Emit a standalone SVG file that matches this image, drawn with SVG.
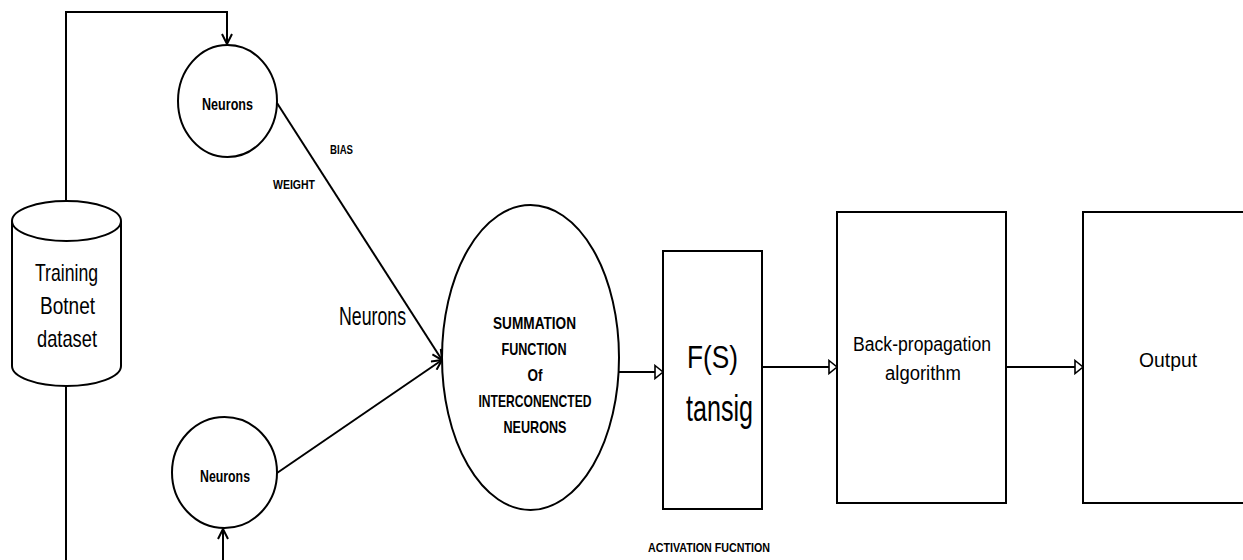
<svg xmlns="http://www.w3.org/2000/svg" width="1243" height="560" viewBox="0 0 1243 560">
<style>
.s{fill:none;stroke:#000;stroke-width:2}
.n{fill:#fff;stroke:#000;stroke-width:2}
.t{font-family:"Liberation Sans",Arial,sans-serif;fill:#000;text-anchor:middle}
.b{font-weight:bold}
</style>
<defs>
<marker id="v" markerUnits="userSpaceOnUse" markerWidth="12" markerHeight="12" refX="11" refY="6" orient="auto">
<path d="M1,1 L11,6 L1,11" fill="none" stroke="#000" stroke-width="2"/>
</marker>
<marker id="tri" markerUnits="userSpaceOnUse" markerWidth="12" markerHeight="16" refX="10" refY="8" orient="auto">
<path d="M2,1.5 L10,8 L2,14.5 Z" fill="#fff" stroke="#000" stroke-width="1.6"/>
</marker>
</defs>
<rect width="1243" height="560" fill="#fff"/>

<g id="connectors">
<path class="s" d="M66,202 V12 H227 V44" marker-end="url(#v)"/>
<path class="s" d="M66,386 V560"/>
<path class="s" d="M223,560 V529" marker-end="url(#v)"/>
<path class="s" d="M277,103 L442,360" marker-end="url(#v)"/>
<path class="s" d="M277,473 L442,360" marker-end="url(#v)"/>
<path class="s" d="M619,372 H663" marker-end="url(#tri)"/>
<path class="s" d="M762,367 H837" marker-end="url(#tri)"/>
<path class="s" d="M1006,367 H1083" marker-end="url(#tri)"/>
</g>

<g id="dataset">
<path class="n" d="M12,221 V366 A54.5,20 0 0 0 121,366 V221"/>
<ellipse class="n" cx="66.5" cy="221" rx="54.5" ry="20"/>
<text class="t" x="66.5" y="281" font-size="24" textLength="63" lengthAdjust="spacingAndGlyphs">Training</text>
<text class="t" x="67.5" y="314" font-size="24" textLength="55" lengthAdjust="spacingAndGlyphs">Botnet</text>
<text class="t" x="67" y="347" font-size="24" textLength="60" lengthAdjust="spacingAndGlyphs">dataset</text>
</g>

<g id="neuron-top">
<ellipse class="n" cx="227.5" cy="101" rx="49.5" ry="56"/>
<text class="t b" x="227.5" y="110" font-size="17" textLength="51" lengthAdjust="spacingAndGlyphs">Neurons</text>
</g>

<g id="neuron-bottom">
<ellipse class="n" cx="224.5" cy="472.5" rx="52.5" ry="55.5"/>
<text class="t b" x="225" y="482" font-size="17" textLength="50" lengthAdjust="spacingAndGlyphs">Neurons</text>
</g>

<g id="labels">
<text class="t b" x="341.5" y="154" font-size="13" textLength="23" lengthAdjust="spacingAndGlyphs">BIAS</text>
<text class="t b" x="294" y="189" font-size="13" textLength="42" lengthAdjust="spacingAndGlyphs">WEIGHT</text>
<text class="t" x="372.5" y="325" font-size="25" textLength="67" lengthAdjust="spacingAndGlyphs">Neurons</text>
</g>

<g id="summation">
<ellipse class="n" cx="530.5" cy="357.5" rx="88.5" ry="152.5"/>
<text class="t b" x="534.5" y="329" font-size="17" textLength="83" lengthAdjust="spacingAndGlyphs">SUMMATION</text>
<text class="t b" x="534" y="355" font-size="17" textLength="65" lengthAdjust="spacingAndGlyphs">FUNCTION</text>
<text class="t b" x="535" y="381" font-size="17" textLength="15" lengthAdjust="spacingAndGlyphs">Of</text>
<text class="t b" x="535" y="407" font-size="17" textLength="113" lengthAdjust="spacingAndGlyphs">INTERCONENCTED</text>
<text class="t b" x="535" y="433" font-size="17" textLength="63" lengthAdjust="spacingAndGlyphs">NEURONS</text>
</g>

<g id="activation">
<rect class="n" x="663" y="251" width="99" height="258"/>
<text class="t" x="712.5" y="368" font-size="31" textLength="51" lengthAdjust="spacingAndGlyphs">F(S)</text>
<text class="t" x="719.5" y="421" font-size="36" textLength="67" lengthAdjust="spacingAndGlyphs">tansig</text>
<text class="t b" x="709" y="552" font-size="13" textLength="122" lengthAdjust="spacingAndGlyphs">ACTIVATION FUCNTION</text>
</g>

<g id="backprop">
<rect class="n" x="837" y="212" width="169" height="291"/>
<text class="t" x="922" y="351" font-size="20" textLength="138" lengthAdjust="spacingAndGlyphs">Back-propagation</text>
<text class="t" x="923" y="380" font-size="20" textLength="76" lengthAdjust="spacingAndGlyphs">algorithm</text>
</g>

<g id="output">
<rect class="n" x="1083" y="212" width="200" height="291"/>
<text class="t" x="1168" y="367" font-size="21" textLength="58" lengthAdjust="spacingAndGlyphs">Output</text>
</g>
</svg>
